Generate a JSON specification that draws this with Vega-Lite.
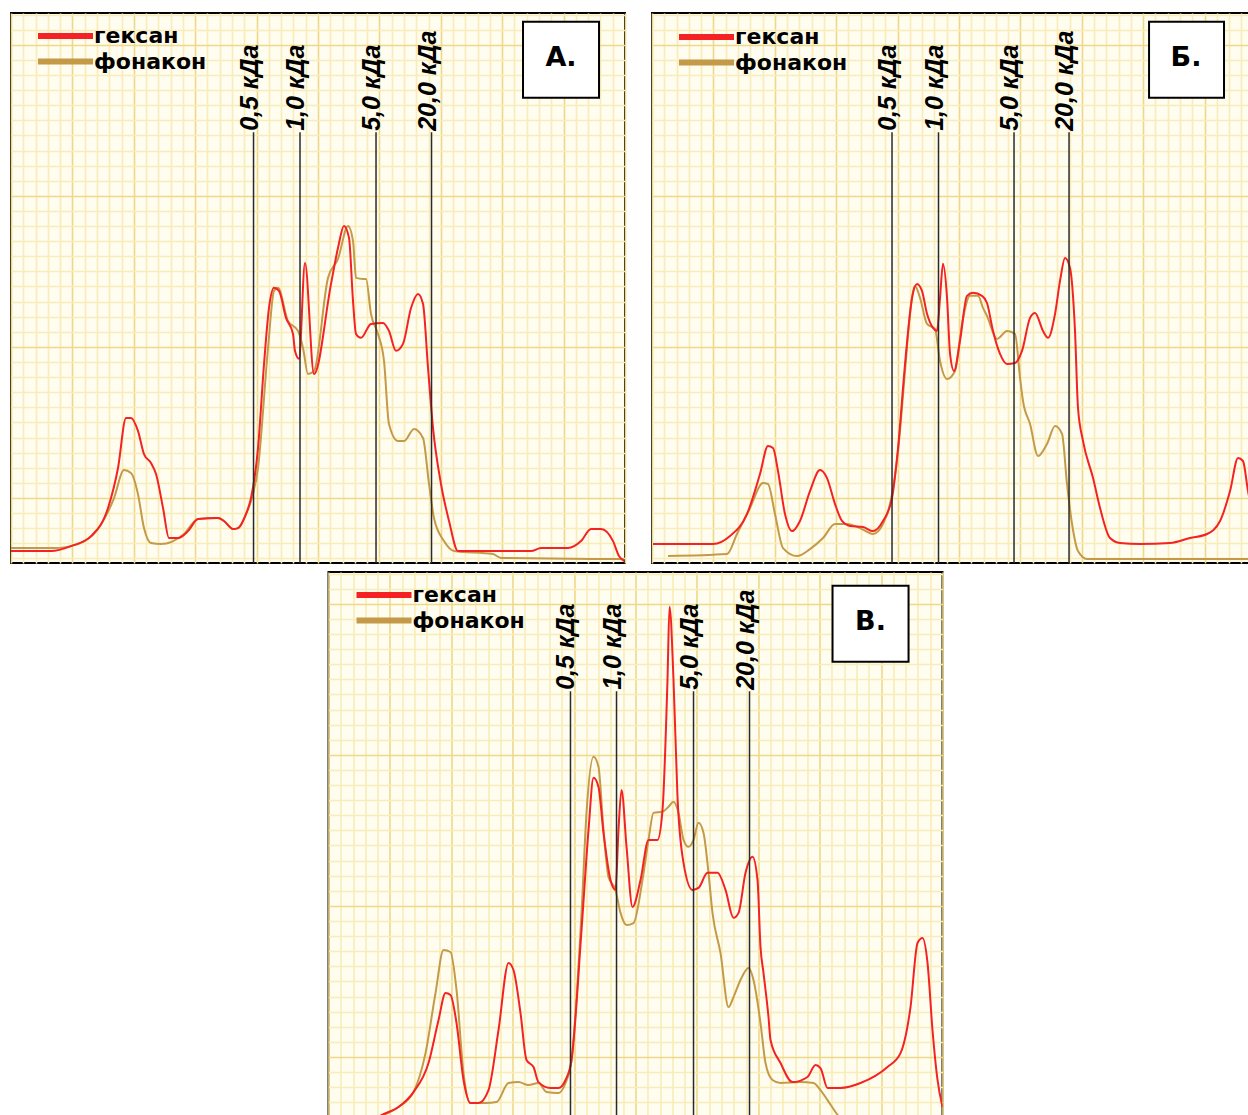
{
"$schema": "https://vega.github.io/schema/vega-lite/v6.json",
"background": "white",
"padding": {"left": 10, "top": 12, "right": 0, "bottom": 0},
"config": {
  "view": {"stroke": "black", "strokeWidth": 2, "fill": "#fffdf0"},
  "axis": {"labels": false, "ticks": false, "domain": false, "grid": true, "gridWidth": 1.6, "tickCount": 1000}
},
"datasets": {
  "markers": [
    {"p":"А","kda":"0,5 кДа","x":39.5},{"p":"А","kda":"1,0 кДа","x":47.07},{"p":"А","kda":"5,0 кДа","x":59.45},{"p":"А","kda":"20,0 кДа","x":68.49},
    {"p":"Б","kda":"0,5 кДа","x":39.09},{"p":"Б","kda":"1,0 кДа","x":46.66},{"p":"Б","kda":"5,0 кДа","x":58.96},{"p":"Б","kda":"20,0 кДа","x":67.92},
    {"p":"В","kda":"0,5 кДа","x":39.41},{"p":"В","kda":"1,0 кДа","x":46.91},{"p":"В","kda":"5,0 кДа","x":59.45},{"p":"В","kda":"20,0 кДа","x":68.57}
  ],
  "curves": [
{"p":"А","s":"фонакон","x":0,"y":6.69},{"p":"А","s":"фонакон","x":7.0,"y":6.69},{"p":"А","s":"фонакон","x":10.91,"y":6.95},{"p":"А","s":"фонакон","x":14.17,"y":7.95},{"p":"А","s":"фонакон","x":16.78,"y":10.0},{"p":"А","s":"фонакон","x":18.4,"y":11.85},{"p":"А","s":"фонакон","x":19.54,"y":11.66},{"p":"А","s":"фонакон","x":20.68,"y":10.26},{"p":"А","s":"фонакон","x":21.66,"y":8.01},{"p":"А","s":"фонакон","x":22.8,"y":7.02},{"p":"А","s":"фонакон","x":24.43,"y":6.95},{"p":"А","s":"фонакон","x":28.18,"y":7.62},{"p":"А","s":"фонакон","x":30.46,"y":8.61},{"p":"А","s":"фонакон","x":33.71,"y":8.68},{"p":"А","s":"фонакон","x":34.69,"y":8.48},{"p":"А","s":"фонакон","x":36.16,"y":7.95},{"p":"А","s":"фонакон","x":36.97,"y":8.01},{"p":"А","s":"фонакон","x":38.27,"y":8.94},{"p":"А","s":"фонакон","x":39.09,"y":9.8},{"p":"А","s":"фонакон","x":40.23,"y":11.99},{"p":"А","s":"фонакон","x":41.86,"y":19.93},{"p":"А","s":"фонакон","x":42.83,"y":23.71},{"p":"А","s":"фонакон","x":43.49,"y":23.91},{"p":"А","s":"фонакон","x":45.11,"y":21.72},{"p":"А","s":"фонакон","x":46.74,"y":21.06},{"p":"А","s":"фонакон","x":47.56,"y":19.93},{"p":"А","s":"фонакон","x":48.37,"y":18.21},{"p":"А","s":"фонакон","x":49.35,"y":18.41},{"p":"А","s":"фонакон","x":51.63,"y":24.57},{"p":"А","s":"фонакон","x":53.26,"y":25.83},{"p":"А","s":"фонакон","x":54.89,"y":28.01},{"p":"А","s":"фонакон","x":55.7,"y":27.02},{"p":"А","s":"фонакон","x":56.19,"y":24.57},{"p":"А","s":"фонакон","x":57.33,"y":24.5},{"p":"А","s":"фонакон","x":57.82,"y":24.5},{"p":"А","s":"фонакон","x":58.63,"y":22.19},{"p":"А","s":"фонакон","x":59.77,"y":20.86},{"p":"А","s":"фонакон","x":60.75,"y":19.07},{"p":"А","s":"фонакон","x":61.56,"y":14.9},{"p":"А","s":"фонакон","x":63.03,"y":13.77},{"p":"А","s":"фонакон","x":64.01,"y":13.77},{"p":"А","s":"фонакон","x":65.64,"y":14.57},{"p":"А","s":"фонакон","x":67.1,"y":13.97},{"p":"А","s":"фонакон","x":68.08,"y":10.93},{"p":"А","s":"фонакон","x":68.89,"y":8.68},{"p":"А","s":"фонакон","x":70.52,"y":7.15},{"p":"А","s":"фонакон","x":72.15,"y":6.49},{"p":"А","s":"фонакон","x":78.5,"y":6.29},{"p":"А","s":"фонакон","x":79.8,"y":6.03},{"p":"А","s":"фонакон","x":99.84,"y":5.96},
{"p":"А","s":"гексан","x":0,"y":6.49},{"p":"А","s":"гексан","x":6.51,"y":6.49},{"p":"А","s":"гексан","x":9.77,"y":6.82},{"p":"А","s":"гексан","x":13.03,"y":7.48},{"p":"А","s":"гексан","x":15.8,"y":9.34},{"p":"А","s":"гексан","x":17.43,"y":11.99},{"p":"А","s":"гексан","x":18.73,"y":15.3},{"p":"А","s":"гексан","x":19.54,"y":15.3},{"p":"А","s":"гексан","x":20.68,"y":14.44},{"p":"А","s":"гексан","x":21.66,"y":12.91},{"p":"А","s":"гексан","x":22.8,"y":12.32},{"p":"А","s":"гексан","x":23.62,"y":11.59},{"p":"А","s":"гексан","x":24.76,"y":9.34},{"p":"А","s":"гексан","x":25.73,"y":7.35},{"p":"А","s":"гексан","x":27.2,"y":7.35},{"p":"А","s":"гексан","x":28.83,"y":7.81},{"p":"А","s":"гексан","x":30.46,"y":8.61},{"p":"А","s":"гексан","x":33.71,"y":8.68},{"p":"А","s":"гексан","x":34.69,"y":8.48},{"p":"А","s":"гексан","x":36.16,"y":7.95},{"p":"А","s":"гексан","x":36.97,"y":8.01},{"p":"А","s":"гексан","x":38.27,"y":8.94},{"p":"А","s":"гексан","x":39.09,"y":10.0},{"p":"А","s":"гексан","x":40.23,"y":13.31},{"p":"А","s":"гексан","x":41.21,"y":18.87},{"p":"А","s":"гексан","x":42.02,"y":22.58},{"p":"А","s":"гексан","x":42.83,"y":23.91},{"p":"А","s":"гексан","x":43.65,"y":23.71},{"p":"А","s":"гексан","x":44.79,"y":21.92},{"p":"А","s":"гексан","x":45.93,"y":20.86},{"p":"А","s":"гексан","x":46.25,"y":19.74},{"p":"А","s":"гексан","x":46.91,"y":19.21},{"p":"А","s":"гексан","x":47.88,"y":25.56},{"p":"А","s":"гексан","x":49.35,"y":18.21},{"p":"А","s":"гексан","x":52.12,"y":24.17},{"p":"А","s":"гексан","x":53.26,"y":26.56},{"p":"А","s":"гексан","x":54.23,"y":28.01},{"p":"А","s":"гексан","x":55.05,"y":27.22},{"p":"А","s":"гексан","x":55.7,"y":23.05},{"p":"А","s":"гексан","x":56.19,"y":20.86},{"p":"А","s":"гексан","x":57.0,"y":20.6},{"p":"А","s":"гексан","x":58.63,"y":21.52},{"p":"А","s":"гексан","x":60.59,"y":21.59},{"p":"А","s":"гексан","x":61.56,"y":21.06},{"p":"А","s":"гексан","x":62.7,"y":19.74},{"p":"А","s":"гексан","x":63.84,"y":20.2},{"p":"А","s":"гексан","x":65.15,"y":22.58},{"p":"А","s":"гексан","x":66.29,"y":23.51},{"p":"А","s":"гексан","x":67.1,"y":22.85},{"p":"А","s":"гексан","x":67.92,"y":18.61},{"p":"А","s":"гексан","x":68.73,"y":14.64},{"p":"А","s":"гексан","x":70.03,"y":10.93},{"p":"А","s":"гексан","x":71.34,"y":8.48},{"p":"А","s":"гексан","x":72.8,"y":6.49},{"p":"А","s":"гексан","x":84.69,"y":6.49},{"p":"А","s":"гексан","x":86.32,"y":6.69},{"p":"А","s":"гексан","x":90.72,"y":6.69},{"p":"А","s":"гексан","x":92.84,"y":7.15},{"p":"А","s":"гексан","x":94.46,"y":7.95},{"p":"А","s":"гексан","x":96.09,"y":7.95},{"p":"А","s":"гексан","x":98.05,"y":7.15},{"p":"А","s":"гексан","x":99.02,"y":6.16},{"p":"А","s":"гексан","x":99.84,"y":5.83},
{"p":"Б","s":"фонакон","x":2.61,"y":6.16},{"p":"Б","s":"фонакон","x":12.22,"y":6.29},{"p":"Б","s":"фонакон","x":13.84,"y":7.62},{"p":"Б","s":"фонакон","x":15.96,"y":9.34},{"p":"Б","s":"фонакон","x":18.08,"y":10.99},{"p":"Б","s":"фонакон","x":18.89,"y":10.93},{"p":"Б","s":"фонакон","x":20.03,"y":8.94},{"p":"Б","s":"фонакон","x":21.34,"y":6.69},{"p":"Б","s":"фонакон","x":23.62,"y":6.16},{"p":"Б","s":"фонакон","x":25.73,"y":6.62},{"p":"Б","s":"фонакон","x":27.85,"y":7.35},{"p":"Б","s":"фонакон","x":29.81,"y":8.28},{"p":"Б","s":"фонакон","x":31.76,"y":8.28},{"p":"Б","s":"фонакон","x":33.88,"y":8.01},{"p":"Б","s":"фонакон","x":35.99,"y":7.62},{"p":"Б","s":"фонакон","x":37.62,"y":8.28},{"p":"Б","s":"фонакон","x":38.76,"y":9.6},{"p":"Б","s":"фонакон","x":40.07,"y":13.11},{"p":"Б","s":"фонакон","x":41.21,"y":18.41},{"p":"Б","s":"фонакон","x":42.02,"y":22.19},{"p":"Б","s":"фонакон","x":42.84,"y":24.04},{"p":"Б","s":"фонакон","x":43.65,"y":23.25},{"p":"Б","s":"фонакон","x":44.79,"y":21.52},{"p":"Б","s":"фонакон","x":46.09,"y":21.19},{"p":"Б","s":"фонакон","x":46.91,"y":19.07},{"p":"Б","s":"фонакон","x":48.05,"y":17.88},{"p":"Б","s":"фонакон","x":49.35,"y":18.41},{"p":"Б","s":"фонакон","x":50.49,"y":21.52},{"p":"Б","s":"фонакон","x":51.79,"y":23.38},{"p":"Б","s":"фонакон","x":53.1,"y":23.38},{"p":"Б","s":"фонакон","x":53.91,"y":22.58},{"p":"Б","s":"фонакон","x":54.56,"y":22.05},{"p":"Б","s":"фонакон","x":56.19,"y":20.53},{"p":"Б","s":"фонакон","x":57.82,"y":21.06},{"p":"Б","s":"фонакон","x":59.12,"y":20.86},{"p":"Б","s":"фонакон","x":59.94,"y":17.95},{"p":"Б","s":"фонакон","x":60.42,"y":16.42},{"p":"Б","s":"фонакон","x":61.57,"y":14.9},{"p":"Б","s":"фонакон","x":62.87,"y":12.78},{"p":"Б","s":"фонакон","x":64.33,"y":13.58},{"p":"Б","s":"фонакон","x":65.64,"y":14.77},{"p":"Б","s":"фонакон","x":66.78,"y":14.24},{"p":"Б","s":"фонакон","x":67.59,"y":10.93},{"p":"Б","s":"фонакон","x":68.41,"y":8.28},{"p":"Б","s":"фонакон","x":69.38,"y":6.49},{"p":"Б","s":"фонакон","x":70.85,"y":5.96},{"p":"Б","s":"фонакон","x":99.0,"y":5.96},
{"p":"Б","s":"гексан","x":0.16,"y":6.95},{"p":"Б","s":"гексан","x":9.94,"y":6.95},{"p":"Б","s":"гексан","x":12.7,"y":7.48},{"p":"Б","s":"гексан","x":15.47,"y":8.94},{"p":"Б","s":"гексан","x":17.59,"y":11.59},{"p":"Б","s":"гексан","x":18.89,"y":13.44},{"p":"Б","s":"гексан","x":19.71,"y":13.31},{"p":"Б","s":"гексан","x":20.52,"y":11.79},{"p":"Б","s":"гексан","x":21.66,"y":8.94},{"p":"Б","s":"гексан","x":22.8,"y":7.81},{"p":"Б","s":"гексан","x":24.1,"y":8.48},{"p":"Б","s":"гексан","x":25.73,"y":10.46},{"p":"Б","s":"гексан","x":27.36,"y":11.85},{"p":"Б","s":"гексан","x":28.5,"y":11.32},{"p":"Б","s":"гексан","x":29.81,"y":9.6},{"p":"Б","s":"гексан","x":30.95,"y":8.48},{"p":"Б","s":"гексан","x":32.25,"y":8.15},{"p":"Б","s":"гексан","x":34.37,"y":8.08},{"p":"Б","s":"гексан","x":35.99,"y":7.81},{"p":"Б","s":"гексан","x":37.62,"y":8.48},{"p":"Б","s":"гексан","x":39.09,"y":10.0},{"p":"Б","s":"гексан","x":40.07,"y":13.31},{"p":"Б","s":"гексан","x":41.21,"y":18.87},{"p":"Б","s":"гексан","x":42.35,"y":23.25},{"p":"Б","s":"гексан","x":43.16,"y":24.17},{"p":"Б","s":"гексан","x":43.97,"y":23.71},{"p":"Б","s":"гексан","x":44.79,"y":22.19},{"p":"Б","s":"гексан","x":45.77,"y":21.26},{"p":"Б","s":"гексан","x":46.42,"y":21.06},{"p":"Б","s":"гексан","x":46.91,"y":23.25},{"p":"Б","s":"гексан","x":47.39,"y":25.5},{"p":"Б","s":"гексан","x":48.05,"y":23.25},{"p":"Б","s":"гексан","x":48.54,"y":19.54},{"p":"Б","s":"гексан","x":49.19,"y":18.41},{"p":"Б","s":"гексан","x":50.16,"y":20.4},{"p":"Б","s":"гексан","x":51.3,"y":23.38},{"p":"Б","s":"гексан","x":52.28,"y":23.58},{"p":"Б","s":"гексан","x":53.75,"y":23.38},{"p":"Б","s":"гексан","x":54.56,"y":22.91},{"p":"Б","s":"гексан","x":55.54,"y":21.06},{"p":"Б","s":"гексан","x":56.68,"y":19.54},{"p":"Б","s":"гексан","x":57.82,"y":18.87},{"p":"Б","s":"гексан","x":59.12,"y":18.94},{"p":"Б","s":"гексан","x":60.26,"y":19.74},{"p":"Б","s":"гексан","x":61.57,"y":21.92},{"p":"Б","s":"гексан","x":62.38,"y":22.25},{"p":"Б","s":"гексан","x":63.68,"y":21.06},{"p":"Б","s":"гексан","x":64.5,"y":20.6},{"p":"Б","s":"гексан","x":65.64,"y":22.19},{"p":"Б","s":"гексан","x":66.45,"y":24.37},{"p":"Б","s":"гексан","x":67.27,"y":25.89},{"p":"Б","s":"гексан","x":68.08,"y":25.23},{"p":"Б","s":"гексан","x":68.89,"y":21.06},{"p":"Б","s":"гексан","x":69.38,"y":15.96},{"p":"Б","s":"гексан","x":70.2,"y":13.77},{"p":"Б","s":"гексан","x":71.83,"y":11.32},{"p":"Б","s":"гексан","x":72.97,"y":9.34},{"p":"Б","s":"гексан","x":74.6,"y":7.35},{"p":"Б","s":"гексан","x":76.22,"y":7.02},{"p":"Б","s":"гексан","x":79.48,"y":6.95},{"p":"Б","s":"гексан","x":84.37,"y":7.02},{"p":"Б","s":"гексан","x":87.62,"y":7.35},{"p":"Б","s":"гексан","x":90.39,"y":7.62},{"p":"Б","s":"гексан","x":92.51,"y":8.48},{"p":"Б","s":"гексан","x":94.14,"y":10.46},{"p":"Б","s":"гексан","x":95.44,"y":12.65},{"p":"Б","s":"гексан","x":96.25,"y":12.45},{"p":"Б","s":"гексан","x":97.07,"y":10.46},{"p":"Б","s":"гексан","x":98.37,"y":8.15},
{"p":"В","s":"фонакон","x":8.96,"y":6.16},{"p":"В","s":"фонакон","x":11.4,"y":6.69},{"p":"В","s":"фонакон","x":13.84,"y":7.68},{"p":"В","s":"фонакон","x":15.8,"y":10.26},{"p":"В","s":"фонакон","x":17.43,"y":14.24},{"p":"В","s":"фонакон","x":18.73,"y":17.09},{"p":"В","s":"фонакон","x":19.87,"y":16.95},{"p":"В","s":"фонакон","x":20.85,"y":14.44},{"p":"В","s":"фонакон","x":21.99,"y":8.94},{"p":"В","s":"фонакон","x":23.13,"y":6.95},{"p":"В","s":"фонакон","x":25.57,"y":6.95},{"p":"В","s":"фонакон","x":27.36,"y":7.02},{"p":"В","s":"фонакон","x":29.32,"y":8.28},{"p":"В","s":"фонакон","x":30.95,"y":8.34},{"p":"В","s":"фонакон","x":32.57,"y":8.15},{"p":"В","s":"фонакон","x":34.2,"y":8.28},{"p":"В","s":"фонакон","x":35.51,"y":7.68},{"p":"В","s":"фонакон","x":37.46,"y":7.62},{"p":"В","s":"фонакон","x":38.6,"y":8.28},{"p":"В","s":"фонакон","x":39.58,"y":9.8},{"p":"В","s":"фонакон","x":41.21,"y":19.54},{"p":"В","s":"фонакон","x":42.02,"y":26.16},{"p":"В","s":"фонакон","x":43.16,"y":29.87},{"p":"В","s":"фонакон","x":43.97,"y":29.21},{"p":"В","s":"фонакон","x":44.79,"y":25.03},{"p":"В","s":"фонакон","x":45.6,"y":21.92},{"p":"В","s":"фонакон","x":46.74,"y":21.06},{"p":"В","s":"фонакон","x":47.56,"y":19.54},{"p":"В","s":"фонакон","x":48.54,"y":18.74},{"p":"В","s":"фонакон","x":49.68,"y":18.87},{"p":"В","s":"фонакон","x":51.14,"y":21.72},{"p":"В","s":"фонакон","x":52.12,"y":24.37},{"p":"В","s":"фонакон","x":52.93,"y":26.16},{"p":"В","s":"фонакон","x":54.4,"y":26.23},{"p":"В","s":"фонакон","x":55.38,"y":26.56},{"p":"В","s":"фонакон","x":56.19,"y":26.89},{"p":"В","s":"фонакон","x":57.0,"y":26.16},{"p":"В","s":"фонакон","x":57.82,"y":24.37},{"p":"В","s":"фонакон","x":58.63,"y":23.91},{"p":"В","s":"фонакон","x":59.45,"y":24.37},{"p":"В","s":"фонакон","x":60.26,"y":25.5},{"p":"В","s":"фонакон","x":61.08,"y":24.83},{"p":"В","s":"фонакон","x":61.89,"y":22.19},{"p":"В","s":"фонакон","x":62.54,"y":19.54},{"p":"В","s":"фонакон","x":63.84,"y":16.89},{"p":"В","s":"фонакон","x":65.15,"y":13.31},{"p":"В","s":"фонакон","x":65.96,"y":13.97},{"p":"В","s":"фонакон","x":67.1,"y":15.1},{"p":"В","s":"фонакон","x":68.41,"y":15.89},{"p":"В","s":"фонакон","x":69.22,"y":15.1},{"p":"В","s":"фонакон","x":70.36,"y":12.25},{"p":"В","s":"фонакон","x":71.17,"y":9.6},{"p":"В","s":"фонакон","x":72.31,"y":8.48},{"p":"В","s":"фонакон","x":73.62,"y":8.28},{"p":"В","s":"фонакон","x":76.87,"y":8.34},{"p":"В","s":"фонакон","x":78.99,"y":8.28},{"p":"В","s":"фонакон","x":80.13,"y":7.81},{"p":"В","s":"фонакон","x":81.27,"y":7.15},{"p":"В","s":"фонакон","x":82.57,"y":6.36},{"p":"В","s":"фонакон","x":84.2,"y":5.5},
{"p":"В","s":"гексан","x":6.84,"y":5.7},{"p":"В","s":"гексан","x":8.63,"y":6.16},{"p":"В","s":"гексан","x":11.4,"y":6.69},{"p":"В","s":"гексан","x":13.84,"y":7.68},{"p":"В","s":"гексан","x":16.29,"y":9.6},{"p":"В","s":"гексан","x":17.92,"y":12.45},{"p":"В","s":"гексан","x":19.06,"y":14.24},{"p":"В","s":"гексан","x":19.87,"y":14.11},{"p":"В","s":"гексан","x":20.85,"y":12.25},{"p":"В","s":"гексан","x":21.99,"y":8.48},{"p":"В","s":"гексан","x":23.13,"y":6.95},{"p":"В","s":"гексан","x":24.43,"y":6.95},{"p":"В","s":"гексан","x":26.06,"y":7.81},{"p":"В","s":"гексан","x":27.69,"y":11.79},{"p":"В","s":"гексан","x":29.32,"y":16.23},{"p":"В","s":"гексан","x":30.13,"y":15.76},{"p":"В","s":"гексан","x":31.27,"y":12.91},{"p":"В","s":"гексан","x":32.25,"y":9.8},{"p":"В","s":"гексан","x":33.39,"y":9.34},{"p":"В","s":"гексан","x":34.2,"y":8.34},{"p":"В","s":"гексан","x":36.16,"y":7.95},{"p":"В","s":"гексан","x":37.46,"y":7.95},{"p":"В","s":"гексан","x":38.6,"y":8.48},{"p":"В","s":"гексан","x":39.58,"y":9.8},{"p":"В","s":"гексан","x":41.21,"y":18.41},{"p":"В","s":"гексан","x":42.35,"y":25.03},{"p":"В","s":"гексан","x":43.16,"y":28.48},{"p":"В","s":"гексан","x":43.97,"y":27.88},{"p":"В","s":"гексан","x":44.79,"y":24.83},{"p":"В","s":"гексан","x":45.93,"y":21.72},{"p":"В","s":"гексан","x":46.74,"y":21.06},{"p":"В","s":"гексан","x":47.23,"y":25.03},{"p":"В","s":"гексан","x":47.72,"y":27.68},{"p":"В","s":"гексан","x":48.54,"y":23.91},{"p":"В","s":"гексан","x":49.51,"y":19.93},{"p":"В","s":"гексан","x":50.82,"y":21.72},{"p":"В","s":"гексан","x":52.12,"y":24.37},{"p":"В","s":"гексан","x":53.58,"y":24.37},{"p":"В","s":"гексан","x":54.4,"y":26.36},{"p":"В","s":"гексан","x":55.21,"y":34.97},{"p":"В","s":"гексан","x":55.54,"y":39.8},{"p":"В","s":"гексан","x":56.19,"y":34.97},{"p":"В","s":"гексан","x":56.84,"y":27.22},{"p":"В","s":"гексан","x":57.82,"y":22.85},{"p":"В","s":"гексан","x":59.28,"y":21.06},{"p":"В","s":"гексан","x":60.26,"y":21.19},{"p":"В","s":"гексан","x":61.73,"y":22.19},{"p":"В","s":"гексан","x":63.36,"y":22.19},{"p":"В","s":"гексан","x":64.66,"y":21.06},{"p":"В","s":"гексан","x":65.96,"y":19.21},{"p":"В","s":"гексан","x":66.78,"y":19.54},{"p":"В","s":"гексан","x":67.92,"y":22.19},{"p":"В","s":"гексан","x":69.06,"y":23.25},{"p":"В","s":"гексан","x":69.87,"y":21.72},{"p":"В","s":"гексан","x":70.36,"y":17.28},{"p":"В","s":"гексан","x":70.85,"y":15.56},{"p":"В","s":"гексан","x":71.66,"y":12.65},{"p":"В","s":"гексан","x":71.99,"y":11.13},{"p":"В","s":"гексан","x":73.62,"y":9.6},{"p":"В","s":"гексан","x":75.57,"y":8.34},{"p":"В","s":"гексан","x":78.01,"y":8.68},{"p":"В","s":"гексан","x":79.32,"y":9.47},{"p":"В","s":"гексан","x":80.13,"y":9.27},{"p":"В","s":"гексан","x":81.27,"y":7.95},{"p":"В","s":"гексан","x":83.39,"y":7.95},{"p":"В","s":"гексан","x":86.65,"y":8.28},{"p":"В","s":"гексан","x":91.04,"y":9.34},{"p":"В","s":"гексан","x":93.16,"y":10.26},{"p":"В","s":"гексан","x":94.79,"y":13.31},{"p":"В","s":"гексан","x":95.93,"y":17.55},{"p":"В","s":"гексан","x":96.75,"y":17.88},{"p":"В","s":"гексан","x":97.56,"y":16.23},{"p":"В","s":"гексан","x":98.37,"y":11.79},{"p":"В","s":"гексан","x":99.19,"y":8.48},{"p":"В","s":"гексан","x":100.0,"y":6.69}
  ]
},
"spacing": 6,
"center": true,
"resolve": {"scale": {"color": "independent"}, "legend": {"color": "independent"}},
"vconcat": [
{
"spacing": 25,
"resolve": {"scale": {"color": "independent"}, "legend": {"color": "independent"}},
"hconcat": [
{
"width": 614, "height": 550,
"layer": [
 {"data": {"name": "curves"}, "transform": [{"filter": "datum.p === 'А'"}],
  "mark": {"type": "line", "interpolate": "monotone", "strokeWidth": 2, "clip": true},
  "encoding": {
   "x": {"field": "x", "type": "quantitative", "scale": {"domain": [0, 100], "nice": false, "zero": false},
         "axis": {"title": null, "tickCount": 1000, "values": [0,2,4,6,8,10,12,14,16,18,20,22,24,26,28,30,32,34,36,38,40,42,44,46,48,50,52,54,56,58,60,62,64,66,68,70,72,74,76,78,80,82,84,86,88,90,92,94,96,98,100],
                  "gridColor": {"condition": {"test": "datum.value % 10 === 0", "value": "#efd889"}, "value": "#f8ecb8"}}},
   "y": {"field": "y", "type": "quantitative", "scale": {"domain": [5.7, 42.1], "nice": false, "zero": false},
         "axis": {"title": null, "tickCount": 1000, "values": [6,7,8,9,10,11,12,13,14,15,16,17,18,19,20,21,22,23,24,25,26,27,28,29,30,31,32,33,34,35,36,37,38,39,40,41,42],
                  "gridColor": {"condition": {"test": "datum.value % 10 === 0", "value": "#efd889"}, "value": "#f8ecb8"}}},
   "color": {"field": "s", "type": "nominal", "scale": {"domain": ["гексан", "фонакон"], "range": ["#f42222", "#c49a48"]},
             "legend": {"title": null, "orient": "none", "legendX": 24, "legendY": 11, "symbolType": "stroke", "symbolSize": 3025, "symbolStrokeWidth": 6, "labelFont": "DejaVu Sans", "labelFontWeight": "bold", "labelFontSize": 22, "labelColor": "black", "clipHeight": 24, "rowPadding": 1.5, "labelOffset": -2, "padding": 0, "labelLimit": 0}}
  }},
 {"data": {"name": "markers"}, "transform": [{"filter": "datum.p === 'А'"}],
  "mark": {"type": "rule", "color": "#2a2a2a", "strokeWidth": 1.5},
  "encoding": {"x": {"field": "x", "type": "quantitative"}, "y": {"datum": 34.2}, "y2": {"datum": 5.7}}},
 {"data": {"name": "markers"}, "transform": [{"filter": "datum.p === 'А'"}],
  "mark": {"type": "text", "angle": 270, "align": "left", "baseline": "alphabetic", "dy": 4, "font": "Liberation Sans", "fontSize": 25, "fontStyle": "italic", "fontWeight": "bold", "color": "black"},
  "encoding": {"x": {"field": "x", "type": "quantitative"}, "y": {"datum": 34.3}, "text": {"field": "kda"}}},
 {"data": {"values": [{}]},
  "mark": {"type": "rect", "fill": "white", "stroke": "black", "strokeWidth": 2},
  "encoding": {"x": {"datum": 83.39}, "x2": {"datum": 95.77}, "y": {"datum": 41.52}, "y2": {"datum": 36.49}}},
 {"data": {"values": [{}]},
  "mark": {"type": "text", "text": "А.", "font": "DejaVu Sans", "fontWeight": "bold", "fontSize": 27, "align": "center", "baseline": "middle", "color": "black"},
  "encoding": {"x": {"datum": 89.58}, "y": {"datum": 39.1}}}
]
},
{
"width": 608, "height": 550,
"layer": [
 {"data": {"name": "curves"}, "transform": [{"filter": "datum.p === 'Б'"}],
  "mark": {"type": "line", "interpolate": "monotone", "strokeWidth": 2, "clip": true},
  "encoding": {
   "x": {"field": "x", "type": "quantitative", "scale": {"domain": [0, 99.02], "nice": false, "zero": false},
         "axis": {"title": null, "tickCount": 1000, "values": [0,2,4,6,8,10,12,14,16,18,20,22,24,26,28,30,32,34,36,38,40,42,44,46,48,50,52,54,56,58,60,62,64,66,68,70,72,74,76,78,80,82,84,86,88,90,92,94,96,98],
                  "gridColor": {"condition": {"test": "datum.value % 10 === 0", "value": "#efd889"}, "value": "#f8ecb8"}}},
   "y": {"field": "y", "type": "quantitative", "scale": {"domain": [5.7, 42.1], "nice": false, "zero": false},
         "axis": {"title": null, "tickCount": 1000, "values": [6,7,8,9,10,11,12,13,14,15,16,17,18,19,20,21,22,23,24,25,26,27,28,29,30,31,32,33,34,35,36,37,38,39,40,41,42],
                  "gridColor": {"condition": {"test": "datum.value % 10 === 0", "value": "#efd889"}, "value": "#f8ecb8"}}},
   "color": {"field": "s", "type": "nominal", "scale": {"domain": ["гексан", "фонакон"], "range": ["#f42222", "#c49a48"]},
             "legend": {"title": null, "orient": "none", "legendX": 24, "legendY": 12, "symbolType": "stroke", "symbolSize": 3025, "symbolStrokeWidth": 6, "labelFont": "DejaVu Sans", "labelFontWeight": "bold", "labelFontSize": 22, "labelColor": "black", "clipHeight": 24, "rowPadding": 1.5, "labelOffset": -2, "padding": 0, "labelLimit": 0}}
  }},
 {"data": {"name": "markers"}, "transform": [{"filter": "datum.p === 'Б'"}],
  "mark": {"type": "rule", "color": "#2a2a2a", "strokeWidth": 1.5},
  "encoding": {"x": {"field": "x", "type": "quantitative"}, "y": {"datum": 34.2}, "y2": {"datum": 5.7}}},
 {"data": {"name": "markers"}, "transform": [{"filter": "datum.p === 'Б'"}],
  "mark": {"type": "text", "angle": 270, "align": "left", "baseline": "alphabetic", "dy": 4, "font": "Liberation Sans", "fontSize": 25, "fontStyle": "italic", "fontWeight": "bold", "color": "black"},
  "encoding": {"x": {"field": "x", "type": "quantitative"}, "y": {"datum": 34.3}, "text": {"field": "kda"}}},
 {"data": {"values": [{}]},
  "mark": {"type": "rect", "fill": "white", "stroke": "black", "strokeWidth": 2},
  "encoding": {"x": {"datum": 80.95}, "x2": {"datum": 93.16}, "y": {"datum": 41.52}, "y2": {"datum": 36.49}}},
 {"data": {"values": [{}]},
  "mark": {"type": "text", "text": "Б.", "font": "DejaVu Sans", "fontWeight": "bold", "fontSize": 27, "align": "center", "baseline": "middle", "color": "black"},
  "encoding": {"x": {"datum": 86.97}, "y": {"datum": 39.1}}}
]
}
]
},
{
"width": 614, "height": 550,
"layer": [
 {"data": {"name": "curves"}, "transform": [{"filter": "datum.p === 'В'"}],
  "mark": {"type": "line", "interpolate": "monotone", "strokeWidth": 2, "clip": true},
  "encoding": {
   "x": {"field": "x", "type": "quantitative", "scale": {"domain": [0, 100], "nice": false, "zero": false},
         "axis": {"title": null, "tickCount": 1000, "values": [0,2,4,6,8,10,12,14,16,18,20,22,24,26,28,30,32,34,36,38,40,42,44,46,48,50,52,54,56,58,60,62,64,66,68,70,72,74,76,78,80,82,84,86,88,90,92,94,96,98,100],
                  "gridColor": {"condition": {"test": "datum.value % 10 === 0", "value": "#efd889"}, "value": "#f8ecb8"}}},
   "y": {"field": "y", "type": "quantitative", "scale": {"domain": [5.7, 42.1], "nice": false, "zero": false},
         "axis": {"title": null, "tickCount": 1000, "values": [6,7,8,9,10,11,12,13,14,15,16,17,18,19,20,21,22,23,24,25,26,27,28,29,30,31,32,33,34,35,36,37,38,39,40,41,42],
                  "gridColor": {"condition": {"test": "datum.value % 10 === 0", "value": "#efd889"}, "value": "#f8ecb8"}}},
   "color": {"field": "s", "type": "nominal", "scale": {"domain": ["гексан", "фонакон"], "range": ["#f42222", "#c49a48"]},
             "legend": {"title": null, "orient": "none", "legendX": 25, "legendY": 11, "symbolType": "stroke", "symbolSize": 3025, "symbolStrokeWidth": 6, "labelFont": "DejaVu Sans", "labelFontWeight": "bold", "labelFontSize": 22, "labelColor": "black", "clipHeight": 24, "rowPadding": 1.5, "labelOffset": -2, "padding": 0, "labelLimit": 0}}
  }},
 {"data": {"name": "markers"}, "transform": [{"filter": "datum.p === 'В'"}],
  "mark": {"type": "rule", "color": "#2a2a2a", "strokeWidth": 1.5},
  "encoding": {"x": {"field": "x", "type": "quantitative"}, "y": {"datum": 34.2}, "y2": {"datum": 5.7}}},
 {"data": {"name": "markers"}, "transform": [{"filter": "datum.p === 'В'"}],
  "mark": {"type": "text", "angle": 270, "align": "left", "baseline": "alphabetic", "dy": 4, "font": "Liberation Sans", "fontSize": 25, "fontStyle": "italic", "fontWeight": "bold", "color": "black"},
  "encoding": {"x": {"field": "x", "type": "quantitative"}, "y": {"datum": 34.3}, "text": {"field": "kda"}}},
 {"data": {"values": [{}]},
  "mark": {"type": "rect", "fill": "white", "stroke": "black", "strokeWidth": 2},
  "encoding": {"x": {"datum": 82.09}, "x2": {"datum": 94.47}, "y": {"datum": 41.19}, "y2": {"datum": 36.16}}},
 {"data": {"values": [{}]},
  "mark": {"type": "text", "text": "В.", "font": "DejaVu Sans", "fontWeight": "bold", "fontSize": 27, "align": "center", "baseline": "middle", "color": "black"},
  "encoding": {"x": {"datum": 88.28}, "y": {"datum": 38.81}}}
]
}
]
}
